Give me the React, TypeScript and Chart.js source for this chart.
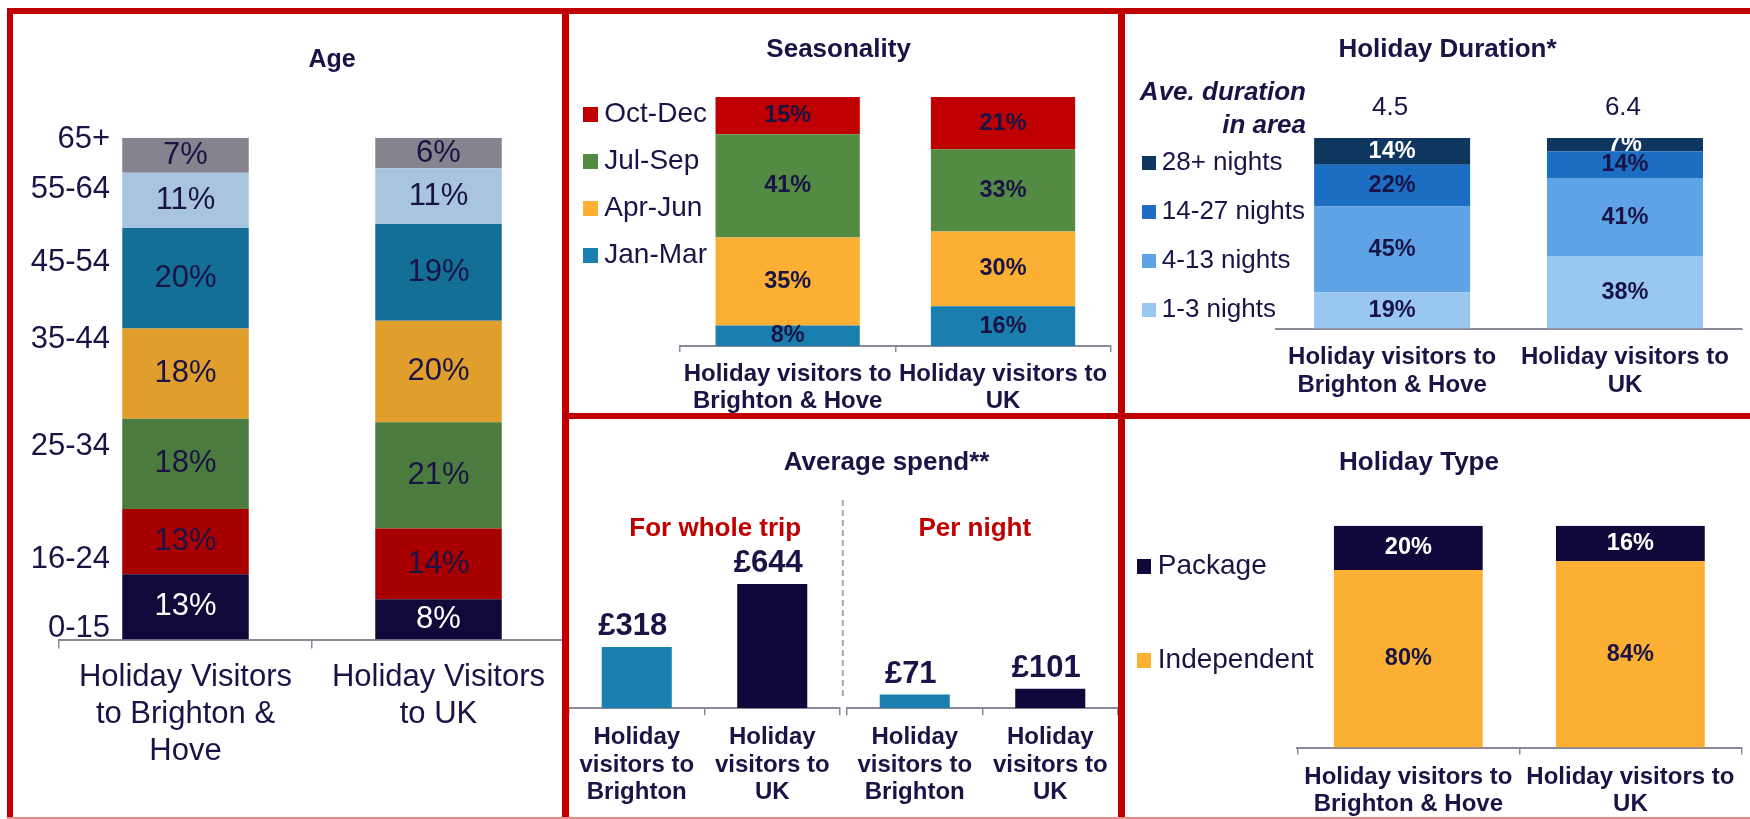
import React, { useEffect, useRef } from 'react';
import { Chart, registerables } from 'chart.js';

Chart.register(...registerables);

const FONT = '"Liberation Sans", Arial, Helvetica, sans-serif';
const INK = '#1a1446';
const RED = '#c00000';
const AXIS = '#8a8a96';
Chart.defaults.font.family = FONT;

// ---------- Age ----------
const ageCategories = [['Holiday Visitors', 'to Brighton &', 'Hove'], ['Holiday Visitors', 'to UK']];
const ageGroups = ['0-15', '16-24', '25-34', '35-44', '45-54', '55-64', '65+'];
const ageBrighton = [13, 13, 18, 18, 20, 11, 7];
const ageUK = [8, 14.1, 21.2, 20.2, 19.3, 11.1, 6.1];
const ageColors = ['#12083a', '#a80000', '#4b7b3e', '#e09e2c', '#136f96', '#a9c4de', '#86838f'];
const ageTextColors = ['#ffffff', INK, INK, INK, INK, INK, INK];
const ageGroupLabelAt = [2.2, 16, 38.5, 59.8, 75.1, 89.7, 99.7];

// ---------- Seasonality ----------
const seasonCategories = [['Holiday visitors to', 'Brighton & Hove'], ['Holiday visitors to', 'UK']];
const seasons = ['Jan-Mar', 'Apr-Jun', 'Jul-Sep', 'Oct-Dec'];
const seasonBrighton = [8.2, 35.4, 41.4, 15];
const seasonUK = [16, 30, 33, 21];
const seasonColors = ['#1a7fae', '#fbb034', '#538b45', '#c00000'];

// ---------- Average spend ----------
const spendCategories = [['Holiday', 'visitors to', 'Brighton'], ['Holiday', 'visitors to', 'UK']];
const spendTrip = [318, 644];
const spendNight = [71, 101];
const spendColors = ['#1a7fae', '#12073b'];

// ---------- Holiday duration ----------
const durationCategories = [['Holiday visitors to', 'Brighton & Hove'], ['Holiday visitors to', 'UK']];
const durationBands = ['1-3 nights', '4-13 nights', '14-27 nights', '28+ nights'];
const durationBrighton = [19, 45, 22, 14];
const durationUK = [38, 41, 14, 7];
const durationColors = ['#9ac7f2', '#5ea3e6', '#1b6ec2', '#0e365e'];
const durationTextColors = [INK, INK, INK, '#ffffff'];
const durationAverage = [4.5, 6.4];

// ---------- Holiday type ----------
const typeCategories = [['Holiday visitors to', 'Brighton & Hove'], ['Holiday visitors to', 'UK']];
const typeNames = ['Independent', 'Package'];
const typeBrighton = [80, 20];
const typeUK = [84, 16];
const typeColors = ['#fbb034', '#12073b'];
const typeTextColors = [INK, '#ffffff'];

type Box = { left: number; top: number; width: number; height: number };
type Area = { left: number; top: number; right: number; bottom: number };

const valueLabels = {
  id: 'valueLabels',
  afterDatasetsDraw(chart: any) {
    const ctx = chart.ctx;
    chart.data.datasets.forEach((ds: any, di: number) => {
      const L = ds.valueLabel;
      if (!L) return;
      const meta = chart.getDatasetMeta(di);
      meta.data.forEach((bar: any, i: number) => {
        const v = ds.data[i];
        ctx.save();
        ctx.font = `${L.weight} ${L.size}px ${FONT}`;
        ctx.fillStyle = L.color;
        ctx.textAlign = 'center';
        if (L.mode === 'above') {
          ctx.textBaseline = 'alphabetic';
          ctx.fillText(L.text(v), bar.x - 4, bar.y - 12);
        } else {
          ctx.textBaseline = 'middle';
          ctx.fillText(L.text(v), bar.x, (bar.y + bar.base) / 2);
        }
        ctx.restore();
      });
    });
  },
};

const pct = (v: number) => `${Math.round(v)}%`;
const pounds = (v: number) => `£${v}`;

function buildConfig(p: {
  box: Box;
  area: Area;
  labels: any[];
  datasets: any[];
  yMax: number;
  stacked: boolean;
  barPct: number;
  drawTicks: boolean;
  tickLength: number;
  tickPad: number;
  tickSize: number;
  tickWeight: string;
  tickLine: string;
  plugins: any[];
}): any {
  const { box, area } = p;
  return {
    type: 'bar',
    data: {
      labels: p.labels,
      datasets: p.datasets.map((d) => ({
        ...d,
        barPercentage: p.barPct,
        categoryPercentage: 1,
        borderWidth: 0,
      })),
    },
    options: {
      responsive: false,
      maintainAspectRatio: false,
      animation: false,
      events: [],
      layout: {
        padding: {
          left: area.left - box.left,
          right: box.left + box.width - area.right,
          top: area.top - box.top,
          bottom: 0,
        },
      },
      plugins: { legend: { display: false }, tooltip: { enabled: false }, title: { display: false } },
      scales: {
        x: {
          stacked: p.stacked,
          offset: true,
          grid: {
            display: true,
            offset: true,
            drawOnChartArea: false,
            drawTicks: p.drawTicks,
            tickLength: p.tickLength,
            color: AXIS,
            lineWidth: 1.5,
          },
          border: { display: true, color: AXIS, width: 2 },
          ticks: {
            autoSkip: false,
            maxRotation: 0,
            minRotation: 0,
            padding: p.tickPad,
            color: INK,
            font: { family: FONT, size: p.tickSize, weight: p.tickWeight, lineHeight: p.tickLine },
          },
          afterFit: (s: any) => {
            s.height = box.top + box.height - area.bottom;
          },
        },
        y: { stacked: p.stacked, display: false, min: 0, max: p.yMax },
      },
    },
    plugins: [valueLabels, ...p.plugins],
  };
}

function ChartBox({ box, config }: { box: Box; config: () => any }) {
  const ref = useRef<HTMLCanvasElement>(null);
  useEffect(() => {
    const chart = new Chart(ref.current as HTMLCanvasElement, config());
    return () => chart.destroy();
  }, []);
  return (
    <canvas
      ref={ref}
      width={box.width}
      height={box.height}
      style={{ position: 'absolute', left: box.left, top: box.top, width: box.width, height: box.height }}
    />
  );
}

function Txt(props: {
  x: number;
  y: number;
  size: number;
  bold?: boolean;
  italic?: boolean;
  align?: 'left' | 'right' | 'center';
  color?: string;
  children: React.ReactNode;
}) {
  const { x, y, size, bold, italic, align = 'left', color = INK } = props;
  const style: any = {
    position: 'absolute',
    top: y - 0.8465 * size,
    fontSize: size,
    lineHeight: 1,
    fontFamily: FONT,
    fontWeight: bold ? 'bold' : 'normal',
    fontStyle: italic ? 'italic' : 'normal',
    color,
    whiteSpace: 'nowrap',
  };
  if (align === 'left') style.left = x;
  else if (align === 'right') style.right = 1750 - x;
  else {
    style.left = x - 400;
    style.width = 800;
    style.textAlign = 'center';
  }
  return <div style={style}>{props.children}</div>;
}

function Swatch({ x, cy, size, color }: { x: number; cy: number; size: number; color: string }) {
  return (
    <div style={{ position: 'absolute', left: x, top: cy - size / 2, width: size, height: size, background: color }} />
  );
}

function Rect({ l, t, w, h, c }: { l: number; t: number; w: number; h: number; c: string }) {
  return <div style={{ position: 'absolute', left: l, top: t, width: w, height: h, background: c }} />;
}

// ---------- chart boxes ----------
const ageBox: Box = { left: 13, top: 90, width: 557, height: 727 };
const ageArea: Area = { left: 59, top: 137.7, right: 565, bottom: 639.5 };
const seasonBox: Box = { left: 569, top: 60, width: 549, height: 353 };
const seasonArea: Area = { left: 680, top: 97, right: 1110.7, bottom: 346 };
const spendLBox: Box = { left: 562, top: 480, width: 284, height: 337 };
const spendLArea: Area = { left: 569, top: 500, right: 840, bottom: 708.3 };
const spendRBox: Box = { left: 844, top: 480, width: 281, height: 337 };
const spendRArea: Area = { left: 847, top: 500, right: 1118, bottom: 708.3 };
const durBox: Box = { left: 1125, top: 60, width: 625, height: 353 };
const durArea: Area = { left: 1275.7, top: 138, right: 1741.4, bottom: 328.5 };
const typeBox: Box = { left: 1125, top: 480, width: 625, height: 337 };
const typeArea: Area = { left: 1297.3, top: 525.7, right: 1741.4, bottom: 747.5 };

const SPEND_MAX = 1080;

const ageGroupPlugin = {
  id: 'ageGroupLabels',
  afterDraw(chart: any) {
    const { ctx, chartArea, scales } = chart;
    ctx.save();
    ctx.font = `31px ${FONT}`;
    ctx.fillStyle = INK;
    ctx.textAlign = 'right';
    ctx.textBaseline = 'middle';
    ageGroups.forEach((g, i) => {
      ctx.fillText(g, chartArea.left + 51, scales.y.getPixelForValue(ageGroupLabelAt[i]));
    });
    ctx.restore();
  },
};

const durationAvgPlugin = {
  id: 'durationAvg',
  afterDraw(chart: any) {
    const { ctx, chartArea } = chart;
    const meta = chart.getDatasetMeta(0);
    ctx.save();
    ctx.font = `26px ${FONT}`;
    ctx.fillStyle = INK;
    ctx.textAlign = 'center';
    ctx.textBaseline = 'alphabetic';
    meta.data.forEach((bar: any, i: number) => {
      ctx.fillText(durationAverage[i].toFixed(1), bar.x - 2, chartArea.top - 23);
    });
    ctx.restore();
  },
};

const dashedDivider = {
  id: 'dashedDivider',
  afterDraw(chart: any) {
    const { ctx, chartArea } = chart;
    const x = chart.width - 3.2;
    ctx.save();
    ctx.strokeStyle = '#a8a8b0';
    ctx.lineWidth = 2;
    ctx.setLineDash([6, 4]);
    ctx.beginPath();
    ctx.moveTo(x, chartArea.top);
    ctx.lineTo(x, chartArea.bottom - 12);
    ctx.stroke();
    ctx.restore();
  },
};

const stackLabel = (color: string, size: number, weight: string) => ({
  mode: 'center',
  color,
  size,
  weight,
  text: pct,
});

function ageConfig() {
  return buildConfig({
    box: ageBox,
    area: ageArea,
    labels: ageCategories,
    datasets: ageGroups.map((g, i) => ({
      label: g,
      data: [ageBrighton[i], ageUK[i]],
      backgroundColor: ageColors[i],
      valueLabel: stackLabel(ageTextColors[i], 31, 'normal'),
    })),
    yMax: 100,
    stacked: true,
    barPct: 0.5,
    drawTicks: true,
    tickLength: 9,
    tickPad: 10.5,
    tickSize: 31,
    tickWeight: 'normal',
    tickLine: '37px',
    plugins: [ageGroupPlugin],
  });
}

function seasonConfig() {
  return buildConfig({
    box: seasonBox,
    area: seasonArea,
    labels: seasonCategories,
    datasets: seasons.map((s, i) => ({
      label: s,
      data: [seasonBrighton[i], seasonUK[i]],
      backgroundColor: seasonColors[i],
      valueLabel: stackLabel(INK, 23.5, 'bold'),
    })),
    yMax: 100,
    stacked: true,
    barPct: 0.67,
    drawTicks: true,
    tickLength: 6,
    tickPad: 8.3,
    tickSize: 24,
    tickWeight: 'bold',
    tickLine: '27.7px',
    plugins: [],
  });
}

function spendConfig(box: Box, area: Area, values: number[], extra: any[]) {
  return buildConfig({
    box,
    area,
    labels: spendCategories,
    datasets: [
      {
        label: 'Average spend',
        data: values,
        backgroundColor: spendColors,
        valueLabel: { mode: 'above', color: INK, size: 31, weight: 'bold', text: pounds },
      },
    ],
    yMax: SPEND_MAX,
    stacked: false,
    barPct: 0.517,
    drawTicks: true,
    tickLength: 7,
    tickPad: 8.5,
    tickSize: 24,
    tickWeight: 'bold',
    tickLine: '27.5px',
    plugins: extra,
  });
}

function durationConfig() {
  return buildConfig({
    box: durBox,
    area: durArea,
    labels: durationCategories,
    datasets: durationBands.map((b, i) => ({
      label: b,
      data: [durationBrighton[i], durationUK[i]],
      backgroundColor: durationColors[i],
      valueLabel: stackLabel(durationTextColors[i], 23.5, 'bold'),
    })),
    yMax: 100,
    stacked: true,
    barPct: 0.67,
    drawTicks: false,
    tickLength: 0,
    tickPad: 15.1,
    tickSize: 24,
    tickWeight: 'bold',
    tickLine: '27.7px',
    plugins: [durationAvgPlugin],
  });
}

function typeConfig() {
  return buildConfig({
    box: typeBox,
    area: typeArea,
    labels: typeCategories,
    datasets: typeNames.map((n, i) => ({
      label: n,
      data: [typeBrighton[i], typeUK[i]],
      backgroundColor: typeColors[i],
      valueLabel: stackLabel(typeTextColors[i], 23.5, 'bold'),
    })),
    yMax: 100,
    stacked: true,
    barPct: 0.67,
    drawTicks: true,
    tickLength: 7,
    tickPad: 9.5,
    tickSize: 24,
    tickWeight: 'bold',
    tickLine: '27px',
    plugins: [],
  });
}

const seasonLegendY = [255.8, 208.5, 161.7, 114.5];
const durationLegendY = [309.7, 260.8, 211.7, 163];
const typeLegendY = [660.5, 566.7];

export default function App() {
  return (
    <div
      style={{
        position: 'fixed',
        left: 0,
        top: 0,
        width: 1750,
        height: 819,
        overflow: 'hidden',
        background: '#ffffff',
        fontFamily: FONT,
      }}
    >
      <ChartBox box={ageBox} config={ageConfig} />
      <ChartBox box={seasonBox} config={seasonConfig} />
      <ChartBox box={spendLBox} config={() => spendConfig(spendLBox, spendLArea, spendTrip, [dashedDivider])} />
      <ChartBox box={spendRBox} config={() => spendConfig(spendRBox, spendRArea, spendNight, [])} />
      <ChartBox box={durBox} config={durationConfig} />
      <ChartBox box={typeBox} config={typeConfig} />

      {/* Titles */}
      <Txt x={332} y={66.7} size={25} bold align="center">Age</Txt>
      <Txt x={838.6} y={56.7} size={26} bold align="center">Seasonality</Txt>
      <Txt x={886.6} y={470} size={26} bold align="center">Average spend**</Txt>
      <Txt x={715.3} y={536} size={26} bold align="center" color={RED}>For whole trip</Txt>
      <Txt x={974.8} y={536} size={26} bold align="center" color={RED}>Per night</Txt>
      <Txt x={1447.5} y={56.7} size={26} bold align="center">Holiday Duration*</Txt>
      <Txt x={1306} y={100} size={26} bold italic align="right">Ave. duration</Txt>
      <Txt x={1306} y={132.7} size={26} bold italic align="right">in area</Txt>
      <Txt x={1419} y={470} size={26} bold align="center">Holiday Type</Txt>

      {/* Seasonality legend */}
      {seasons.map((s, i) => (
        <React.Fragment key={s}>
          <Swatch x={583} cy={seasonLegendY[i]} size={15} color={seasonColors[i]} />
          <Txt x={604.3} y={seasonLegendY[i] + 8} size={28}>{s}</Txt>
        </React.Fragment>
      ))}

      {/* Duration legend */}
      {durationBands.map((b, i) => (
        <React.Fragment key={b}>
          <Swatch x={1142} cy={durationLegendY[i]} size={14} color={durationColors[i]} />
          <Txt x={1161.8} y={durationLegendY[i] + 7.5} size={26}>{b}</Txt>
        </React.Fragment>
      ))}

      {/* Holiday type legend */}
      {typeNames.map((n, i) => (
        <React.Fragment key={n}>
          <Swatch x={1136.5} cy={typeLegendY[i]} size={14.5} color={typeColors[i]} />
          <Txt x={1157.8} y={typeLegendY[i] + 8.5} size={28}>{n}</Txt>
        </React.Fragment>
      ))}

      {/* Red panel frames */}
      <Rect l={7} t={8} w={1743} h={6} c={RED} />
      <Rect l={7} t={8} w={6} h={811} c={RED} />
      <Rect l={562} t={8} w={7} h={811} c={RED} />
      <Rect l={1118} t={8} w={7} h={811} c={RED} />
      <Rect l={562} t={413} w={1188} h={6} c={RED} />
      <Rect l={7} t={817} w={1743} h={2} c="#e98a8a" />
    </div>
  );
}
